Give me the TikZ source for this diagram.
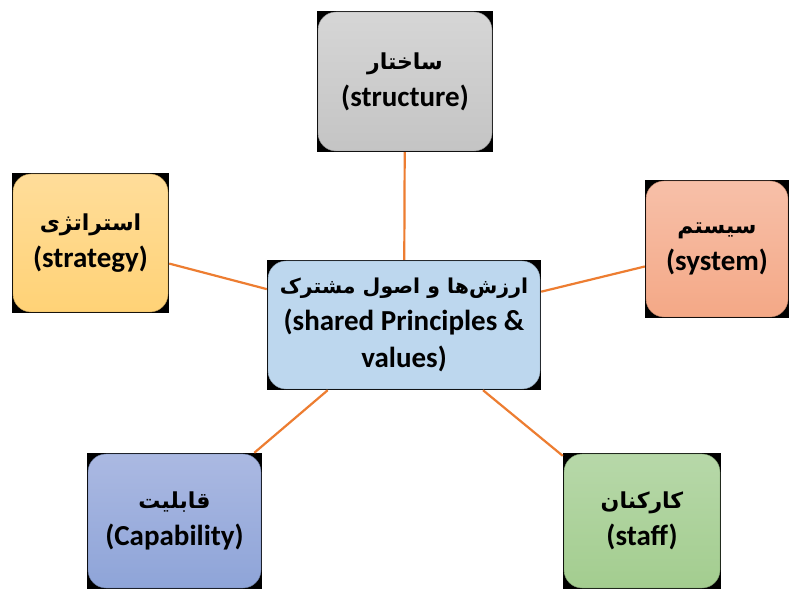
\documentclass[tikz,border=0pt]{standalone}
\usepackage{fontspec}
\usetikzlibrary{backgrounds}
\setmainfont{Carlito}
\newfontfamily\farsi[Script=Arabic]{DejaVu Sans}
\TeXXeTstate=1

\definecolor{linkorange}{HTML}{ED7D31}
\definecolor{grayA}{HTML}{D6D6D6}\definecolor{grayB}{HTML}{C4C4C4}
\definecolor{goldA}{HTML}{FFDD9A}\definecolor{goldB}{HTML}{FFD276}
\definecolor{blueA}{HTML}{BDD7EE}\definecolor{blueB}{HTML}{BDD7EE}
\definecolor{salmonA}{HTML}{F7C0A9}\definecolor{salmonB}{HTML}{F4A886}
\definecolor{indigoA}{HTML}{ABB9E2}\definecolor{indigoB}{HTML}{8EA4D8}
\definecolor{greenA}{HTML}{B7D8A9}\definecolor{greenB}{HTML}{A3CD8F}

\newcommand{\fa}[1]{{\farsi\fontsize{22}{37}\selectfont\beginR #1\endR}}

\tikzset{
  box/.style 2 args={rectangle, inner sep=0pt, align=center,
    font=\bfseries\fontsize{29}{37}\selectfont,
    path picture={
      \shadedraw[top color=#1, bottom color=#2, draw=#2!75!black,
        rounded corners=18pt]
        ([shift={(1pt,1pt)}]path picture bounding box.south west) rectangle
        ([shift={(-1pt,-1pt)}]path picture bounding box.north east);}},
  link/.style={draw=linkorange, line width=2.2pt}
}

\begin{document}
\begin{tikzpicture}[x=1pt,y=1pt]
  \useasboundingbox (0,0) rectangle (789,589);

  % the five elements round the shared values
  \node[box={blueA}{blueB}, minimum width=274pt, minimum height=130pt]
    (values) at (404,264)
    {{\farsi\fontsize{20.5}{37}\selectfont\beginR ارزش‌ها و اصول مشترک\endR}\\(shared Principles \&\\values)};
  \node[box={grayA}{grayB}, minimum width=176pt, minimum height=141pt]
    (structure) at (405,507.5) {\fa{ساختار}\\(structure)};
  \node[box={goldA}{goldB}, minimum width=157pt, minimum height=140pt]
    (strategy) at (90.5,346) {\fa{استراتژی}\\(strategy)};
  \node[box={salmonA}{salmonB}, minimum width=144pt, minimum height=138pt]
    (system) at (717,340) {\fa{سیستم}\\(system)};
  \node[box={indigoA}{indigoB}, minimum width=175pt, minimum height=136pt]
    (capability) at (174.5,68) {\fa{قابلیت}\\(Capability)};
  \node[box={greenA}{greenB}, minimum width=158pt, minimum height=136pt]
    (staff) at (642,68) {\fa{کارکنان}\\(staff)};

  % black frames showing at the rounded corners
  \begin{pgfonlayer}{background}
    \fill[white] (0,0) rectangle (789,589);
    \foreach \n in {values,structure,strategy,system,capability,staff}
      \fill[black] (\n.south west) rectangle (\n.north east);
  \end{pgfonlayer}

  % links
  \draw[link] (values) -- (structure);
  \draw[link] (values) -- (strategy);
  \draw[link] (values) -- (system);
  \draw[link] (values) -- (capability);
  \draw[link] (values) -- (staff);
\end{tikzpicture}
\end{document}
